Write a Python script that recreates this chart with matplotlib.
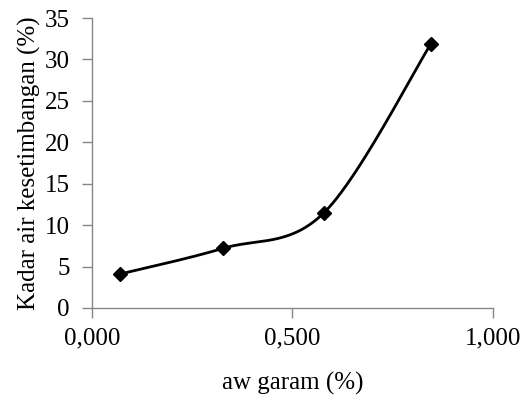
import numpy as np
import matplotlib
matplotlib.use("Agg")
from matplotlib import pyplot as plt

aw_garam = [0.070, 0.327, 0.579, 0.846]
kadar_air = [4.1, 7.2, 11.5, 31.9]
x_ticks = [0.0, 0.5, 1.0]
x_tick_labels = ["0,000", "0,500", "1,000"]
y_ticks = [0, 5, 10, 15, 20, 25, 30, 35]

plt.rcParams['font.family'] = ['Liberation Serif', 'DejaVu Serif']


def smooth_line(xs, ys, n=60):
    # bezier smoothing like spreadsheet "smoothed line"
    p = np.column_stack([xs, ys])
    p = np.vstack([p[0], p, p[-1]])
    out = []
    for i in range(1, len(p) - 2):
        a, b = p[i], p[i + 1]
        c1 = a + (p[i + 1] - p[i - 1]) / 6.0
        c2 = b - (p[i + 2] - p[i]) / 6.0
        t = np.linspace(0, 1, n)[:, None]
        seg = (1 - t) ** 3 * a + 3 * (1 - t) ** 2 * t * c1 + 3 * (1 - t) * t ** 2 * c2 + t ** 3 * b
        out.append(seg)
    out = np.vstack(out)
    return out[:, 0], out[:, 1]


fig = plt.figure(figsize=(5.3, 4.0), dpi=100)
ax = fig.add_axes([0.1736, 0.23, 0.7560, 0.725])

sx, sy = smooth_line(aw_garam, kadar_air)
ax.plot(sx, sy, color="black", lw=2, solid_capstyle="round")
ax.plot(aw_garam, kadar_air, ls="none", marker="D", ms=7, color="black")

ax.set_xlim(0, 1)
ax.set_ylim(0, 35)
ax.set_xticks(x_ticks)
ax.set_xticklabels(x_tick_labels)
ax.set_yticks(y_ticks)
ax.tick_params(labelsize=18, length=7, width=1, color="#868686")
ax.tick_params(axis="y", pad=9)
ax.tick_params(axis="x", pad=7)

for s in ["top", "right"]:
    ax.spines[s].set_visible(False)
for s in ["left", "bottom"]:
    ax.spines[s].set_color("#868686")
    ax.spines[s].set_linewidth(1)

ax.set_xlabel("aw garam (%)", fontsize=18, labelpad=16)
ax.set_ylabel("Kadar air kesetimbangan (%)", fontsize=18, labelpad=3)

plt.savefig("out.png", dpi=100)
plt.close()
